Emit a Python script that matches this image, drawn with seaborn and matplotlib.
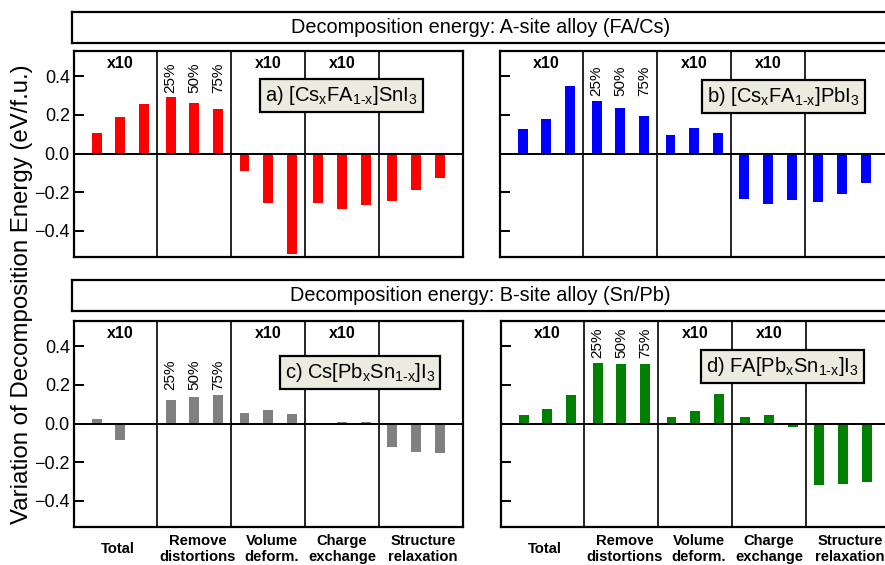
import matplotlib
matplotlib.use('Agg')
from matplotlib import pyplot as plt
import matplotlib.transforms as mtransforms
import seaborn as sns
import numpy as np
import pandas as pd

# categories
groups = ['Total', 'Remove\ndistortions', 'Volume\ndeform.', 'Charge\nexchange', 'Structure\nrelaxation']
group_shift = [-0.1, 0.15, 0.15, 0.0, 0.3]
concentrations = ['25%', '50%', '75%']
scaled_x10 = [True, False, True, True, False]

# energies (eV/f.u.), 3 concentrations per group
a_cs_fa_sn = [0.107, 0.191, 0.255, 0.290, 0.260, 0.229, -0.090, -0.255, -0.517,
              -0.255, -0.288, -0.266, -0.248, -0.190, -0.129]
b_cs_fa_pb = [0.125, 0.180, 0.348, 0.274, 0.235, 0.194, 0.095, 0.133, 0.104,
              -0.234, -0.263, -0.239, -0.253, -0.208, -0.152]
c_cs_pb_sn = [0.024, -0.084, 0.0, 0.123, 0.135, 0.147, 0.053, 0.068, 0.050,
              0.002, 0.010, 0.010, -0.123, -0.149, -0.150]
d_fa_pb_sn = [0.044, 0.077, 0.147, 0.315, 0.310, 0.306, 0.034, 0.067, 0.152,
              0.036, 0.046, -0.019, -0.318, -0.315, -0.304]

panel_labels = [r'a) [Cs$_\mathregular{x}$FA$_\mathregular{1\text{-}x}$]SnI$_\mathregular{3}$',
                r'b) [Cs$_\mathregular{x}$FA$_\mathregular{1\text{-}x}$]PbI$_\mathregular{3}$',
                r'c) Cs[Pb$_\mathregular{x}$Sn$_\mathregular{1\text{-}x}$]I$_\mathregular{3}$',
                r'd) FA[Pb$_\mathregular{x}$Sn$_\mathregular{1\text{-}x}$]I$_\mathregular{3}$']
headers = ['Decomposition energy: A-site alloy (FA/Cs)',
           'Decomposition energy: B-site alloy (Sn/Pb)']

plt.rcParams['font.family'] = ['Liberation Sans', 'DejaVu Sans']
plt.rcParams['mathtext.fontset'] = 'custom'
plt.rcParams['mathtext.rm'] = 'Liberation Sans'
plt.rcParams['axes.linewidth'] = 1.6

step = 3.13
pos = [g * step + (i - 1) for g in range(len(groups)) for i in range(3)]

fig = plt.figure(figsize=(8.85, 5.65), dpi=100)

W, H = 885.0, 565.0
def frac(x0, y0, x1, y1):
    return [x0 / W, 1 - y1 / H, (x1 - x0) / W, (y1 - y0) / H]

# header boxes
for hdr_txt, (y0, y1) in zip(headers, [(12, 43), (280, 311)]):
    hax = fig.add_axes(frac(72, y0, 889, y1))
    hax.set_xticks([])
    hax.set_yticks([])
    hax.text(0.5, 0.5, hdr_txt, ha='center', va='center', fontsize=14.3,
             transform=hax.transAxes)

panels = [
    (a_cs_fa_sn, 'red', frac(74, 51, 463, 257), (0.688, 0.782), True, False),
    (b_cs_fa_pb, 'blue', frac(500, 51, 889, 257), (0.729, 0.777), False, False),
    (c_cs_pb_sn, 'gray', frac(74, 321, 463, 527), (0.735, 0.749), True, True),
    (d_fa_pb_sn, 'green', frac(501, 321, 890, 527), (0.724, 0.780), False, True),
]

for k, (vals, col, rect, boxpos, ylabels, xlabels) in enumerate(panels):
    ax = fig.add_axes(rect)
    df = pd.DataFrame({'pos': pos, 'value': vals})
    sns.barplot(data=df, x='pos', y='value', native_scale=True, width=0.42,
                color=col, saturation=1, linewidth=0, errorbar=None, ax=ax)
    ax.set_xlim(-1.96, 4 * step + 1.99)
    ax.set_ylim(-0.535, 0.53)
    ax.set_xticks([])
    ax.set_xlabel('')
    ax.set_ylabel('')
    ax.set_yticks([-0.4, -0.2, 0.0, 0.2, 0.4])
    ax.tick_params(axis='y', direction='in', length=7, width=1.4, labelsize=13,
                   pad=3)
    if ylabels:
        ax.set_yticklabels(['\u22120.4', '\u22120.2', '0.0', '0.2', '0.4'])
    else:
        ax.set_yticklabels([])
    for sp in ax.spines.values():
        sp.set_color('black')
        sp.set_linewidth(1.6)

    ax.axhline(0, color='black', lw=1.4, zorder=3)
    for g in range(len(groups) - 1):
        ax.axvline(g * step + step / 2, color='black', lw=1.2)

    trans = mtransforms.blended_transform_factory(ax.transData, ax.transAxes)
    for g, flag in enumerate(scaled_x10):
        if flag:
            ax.text(g * step, 0.937, 'x10', ha='center', va='center',
                    fontsize=11.5, fontweight='bold', transform=trans)
        if xlabels:
            ax.text(g * step + group_shift[g], -0.108, groups[g], ha='center',
                    va='center', fontsize=10.6, fontweight='bold',
                    transform=trans, linespacing=1.15, clip_on=False)

    top = max(vals[3:6]) + 0.025
    for i, c in enumerate(concentrations):
        ax.text(step + (i - 1), top, c, rotation=90, ha='center', va='bottom',
                fontsize=11)

    ax.text(boxpos[0], boxpos[1], panel_labels[k], transform=ax.transAxes,
            ha='center', va='center', fontsize=14.5, zorder=5,
            bbox=dict(boxstyle='square,pad=0.25', facecolor='#ECEBDF',
                      edgecolor='black', linewidth=1.6))

fig.text(0.025, 0.48, 'Variation of Decomposition Energy (eV/f.u.)',
         rotation=90, ha='center', va='center', fontsize=17.3)

fig.savefig('out.png', dpi=100)
